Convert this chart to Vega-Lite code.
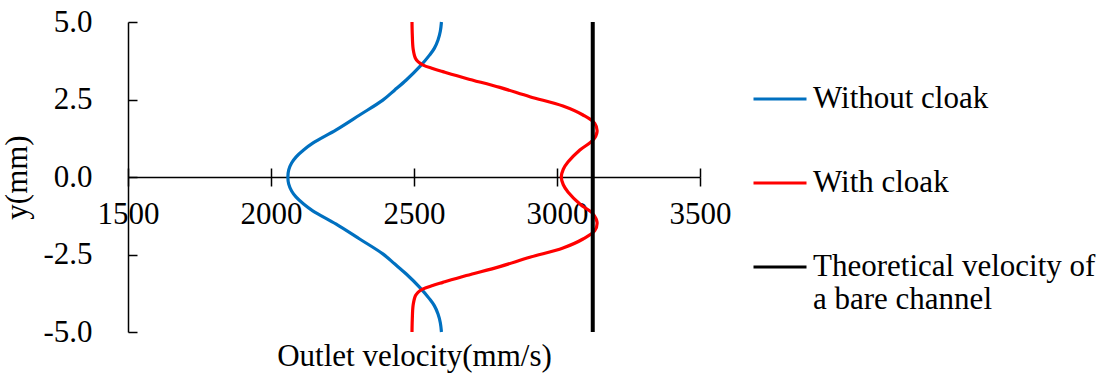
{
  "$schema": "https://vega.github.io/schema/vega-lite/v6.json",
  "autosize": {"type": "none"},
  "padding": {"left": 128, "top": 22, "right": 408, "bottom": 43},
  "width": 572,
  "height": 310,
  "background": "white",
  "config": {
    "view": {"stroke": null},
    "font": "Liberation Serif",
    "axis": {"grid": false, "labelFont": "Liberation Serif", "titleFont": "Liberation Serif", "labelFontSize": 31, "titleFontSize": 31, "titleFontWeight": "normal", "labelColor": "black", "titleColor": "black", "domainColor": "black", "tickColor": "black", "domainWidth": 1.5, "tickWidth": 1.5},
    "legend": {"labelFont": "Liberation Serif", "labelFontSize": 31, "labelColor": "black"}
  },
  "datasets": {
    "curves": [
      {"series": "Without cloak", "y": 5.0, "v": 2596},
      {"series": "Without cloak", "y": 4.7, "v": 2592},
      {"series": "Without cloak", "y": 4.42, "v": 2584},
      {"series": "Without cloak", "y": 4.15, "v": 2571},
      {"series": "Without cloak", "y": 3.94, "v": 2555},
      {"series": "Without cloak", "y": 3.56, "v": 2520},
      {"series": "Without cloak", "y": 3.13, "v": 2473},
      {"series": "Without cloak", "y": 2.8, "v": 2432},
      {"series": "Without cloak", "y": 2.48, "v": 2391},
      {"series": "Without cloak", "y": 2.0, "v": 2310},
      {"series": "Without cloak", "y": 1.52, "v": 2228},
      {"series": "Without cloak", "y": 1.09, "v": 2146},
      {"series": "Without cloak", "y": 0.87, "v": 2114},
      {"series": "Without cloak", "y": 0.65, "v": 2088},
      {"series": "Without cloak", "y": 0.45, "v": 2072},
      {"series": "Without cloak", "y": 0.23, "v": 2062},
      {"series": "Without cloak", "y": 0.0, "v": 2059},
      {"series": "Without cloak", "y": -0.23, "v": 2062},
      {"series": "Without cloak", "y": -0.45, "v": 2072},
      {"series": "Without cloak", "y": -0.65, "v": 2088},
      {"series": "Without cloak", "y": -0.87, "v": 2114},
      {"series": "Without cloak", "y": -1.09, "v": 2146},
      {"series": "Without cloak", "y": -1.52, "v": 2228},
      {"series": "Without cloak", "y": -2.0, "v": 2310},
      {"series": "Without cloak", "y": -2.48, "v": 2391},
      {"series": "Without cloak", "y": -2.8, "v": 2432},
      {"series": "Without cloak", "y": -3.13, "v": 2473},
      {"series": "Without cloak", "y": -3.56, "v": 2520},
      {"series": "Without cloak", "y": -3.94, "v": 2555},
      {"series": "Without cloak", "y": -4.15, "v": 2571},
      {"series": "Without cloak", "y": -4.42, "v": 2584},
      {"series": "Without cloak", "y": -4.7, "v": 2592},
      {"series": "Without cloak", "y": -5.0, "v": 2596},
      {"series": "With cloak", "y": 5.0, "v": 2493},
      {"series": "With cloak", "y": 4.6, "v": 2494},
      {"series": "With cloak", "y": 4.13, "v": 2497},
      {"series": "With cloak", "y": 3.83, "v": 2505},
      {"series": "With cloak", "y": 3.72, "v": 2514},
      {"series": "With cloak", "y": 3.61, "v": 2532},
      {"series": "With cloak", "y": 3.5, "v": 2565},
      {"series": "With cloak", "y": 3.4, "v": 2601},
      {"series": "With cloak", "y": 3.18, "v": 2683},
      {"series": "With cloak", "y": 2.89, "v": 2800},
      {"series": "With cloak", "y": 2.59, "v": 2905},
      {"series": "With cloak", "y": 2.29, "v": 3021},
      {"series": "With cloak", "y": 2.0, "v": 3091},
      {"series": "With cloak", "y": 1.73, "v": 3132},
      {"series": "With cloak", "y": 1.46, "v": 3140},
      {"series": "With cloak", "y": 1.19, "v": 3126},
      {"series": "With cloak", "y": 0.87, "v": 3080},
      {"series": "With cloak", "y": 0.49, "v": 3039},
      {"series": "With cloak", "y": 0.25, "v": 3022},
      {"series": "With cloak", "y": 0.0, "v": 3015},
      {"series": "With cloak", "y": -0.25, "v": 3022},
      {"series": "With cloak", "y": -0.49, "v": 3039},
      {"series": "With cloak", "y": -0.87, "v": 3080},
      {"series": "With cloak", "y": -1.19, "v": 3126},
      {"series": "With cloak", "y": -1.46, "v": 3140},
      {"series": "With cloak", "y": -1.73, "v": 3132},
      {"series": "With cloak", "y": -2.0, "v": 3091},
      {"series": "With cloak", "y": -2.29, "v": 3021},
      {"series": "With cloak", "y": -2.59, "v": 2905},
      {"series": "With cloak", "y": -2.89, "v": 2800},
      {"series": "With cloak", "y": -3.18, "v": 2683},
      {"series": "With cloak", "y": -3.4, "v": 2601},
      {"series": "With cloak", "y": -3.5, "v": 2565},
      {"series": "With cloak", "y": -3.61, "v": 2532},
      {"series": "With cloak", "y": -3.72, "v": 2514},
      {"series": "With cloak", "y": -3.83, "v": 2505},
      {"series": "With cloak", "y": -4.13, "v": 2497},
      {"series": "With cloak", "y": -4.6, "v": 2494},
      {"series": "With cloak", "y": -5.0, "v": 2493}
    ],
    "theory": [
      {"series": "Theoretical velocity of a bare channel", "y": -5.0, "v": 3125},
      {"series": "Theoretical velocity of a bare channel", "y": 5.0, "v": 3125}
    ]
  },
  "layer": [
    {
      "data": {"name": "curves"},
      "mark": {"type": "line", "strokeWidth": 3.2, "interpolate": "catmull-rom"},
      "encoding": {
        "x": {"field": "v", "type": "quantitative", "scale": {"domain": [1500, 3500], "nice": false, "zero": false},
          "axis": {"orient": "bottom", "offset": -155, "values": [1500, 2000, 2500, 3000, 3500], "format": "d", "labelFlush": false, "tickSize": 9, "labelPadding": 13, "title": "Outlet velocity(mm/s)", "titleY": 164}},
        "y": {"field": "y", "type": "quantitative", "scale": {"domain": [-5, 5], "nice": false, "zero": false},
          "axis": {"orient": "left", "values": [-5, -2.5, 0, 2.5, 5], "tickSize": 0, "labelPadding": 36, "labelFlush": false, "labelExpr": "replace(format(datum.value, '.1f'), '\u2212', '-')", "title": "y(mm)", "titlePadding": 9}},
        "order": {"field": "y", "type": "quantitative"},
        "color": {"field": "series", "type": "nominal",
          "scale": {"domain": ["Without cloak", "With cloak", "Theoretical velocity of a bare channel"], "range": ["#0070C0", "#FF0000", "#000000"]},
          "legend": {"title": null, "orient": "none", "legendX": 624, "legendY": 49, "padding": 0, "symbolType": "stroke", "symbolSize": 2809, "symbolStrokeWidth": 3, "labelOffset": 5, "rowPadding": 41, "labelBaseline": "middle", "labelLimit": 400, "labelLineHeight": 35,
            "labelExpr": "datum.label == 'Theoretical velocity of a bare channel' ? ['Theoretical velocity of', 'a bare channel'] : datum.label"}}
      }
    },
    {
      "data": {"name": "theory"},
      "mark": {"type": "line", "strokeWidth": 4},
      "encoding": {
        "x": {"field": "v", "type": "quantitative", "scale": {"domain": [1500, 3500], "nice": false, "zero": false},
          "axis": {"orient": "top", "offset": -155, "values": [1500, 2000, 2500, 3000, 3500], "tickSize": 9, "labels": false, "domain": false, "title": null}},
        "y": {"field": "y", "type": "quantitative",
          "axis": {"orient": "right", "offset": -572, "values": [-5, -2.5, 0, 2.5, 5], "tickSize": 9, "labels": false, "domain": false, "title": null}},
        "order": {"field": "y", "type": "quantitative"},
        "color": {"field": "series", "type": "nominal"}
      }
    }
  ],
  "resolve": {"axis": {"x": "independent", "y": "independent"}}
}
